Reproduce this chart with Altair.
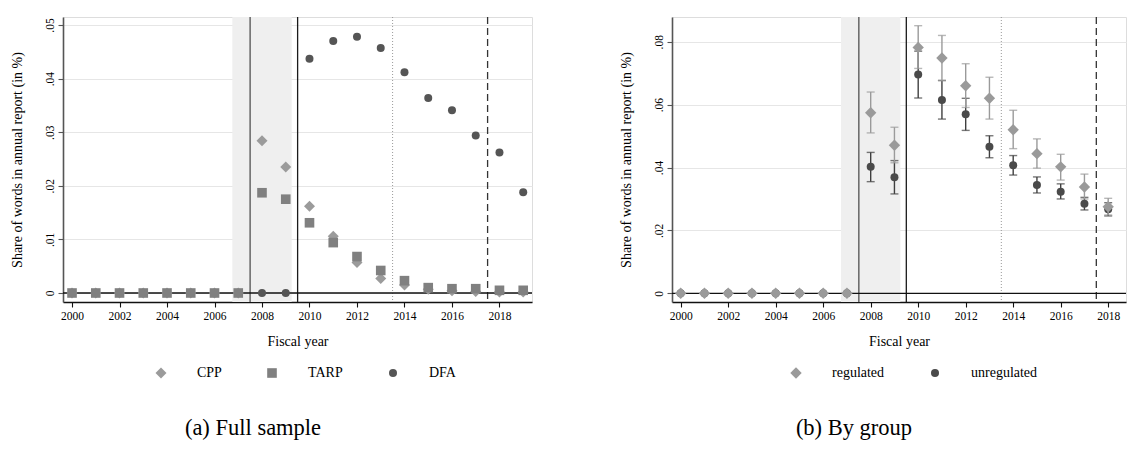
import altair as alt
import pandas as pd

# ---------------- data ----------------
years = list(range(2000, 2020))

cpp = [0, 0, 0, 0, 0, 0, 0, 0, 0.0284, 0.0235, 0.0162, 0.0106, 0.0057, 0.0027,
       0.0015, 0.0007, 0.0004, 0.0003, 0.0002, 0.0002]
tarp = [0, 0, 0, 0, 0, 0, 0, 0, 0.0187, 0.0175, 0.0131, 0.0094, 0.0068, 0.0042,
        0.0023, 0.0010, 0.0008, 0.0008, 0.0005, 0.0005]
dfa = [0, 0, 0, 0, 0, 0, 0, 0, 0, 0, 0.0437, 0.0470, 0.0478, 0.0457,
       0.0412, 0.0364, 0.0341, 0.0294, 0.0262, 0.0188]

regulated = [0, 0, 0, 0, 0, 0, 0, 0, 0.0574, 0.0471, 0.0782, 0.0748, 0.0660, 0.0620,
             0.0520, 0.0444, 0.0402, 0.0338, 0.0275, 0.0199]
reg_lo = [None] * 8 + [0.0510, 0.0415, 0.0715, 0.0676, 0.0591, 0.0554,
                       0.0460, 0.0398, 0.0360, 0.0300, 0.0249, 0.0170]
reg_hi = [None] * 8 + [0.0640, 0.0528, 0.0851, 0.0820, 0.0730, 0.0687,
                       0.0582, 0.0491, 0.0442, 0.0379, 0.0302, 0.0231]
unregulated = [0, 0, 0, 0, 0, 0, 0, 0, 0.0402, 0.0369, 0.0696, 0.0615, 0.0569, 0.0466,
               0.0407, 0.0344, 0.0323, 0.0285, 0.0267, 0.0193]
unreg_lo = [None] * 8 + [0.0355, 0.0316, 0.0621, 0.0554, 0.0518, 0.0431,
                         0.0376, 0.0319, 0.0300, 0.0265, 0.0246, 0.0164]
unreg_hi = [None] * 8 + [0.0448, 0.0422, 0.0770, 0.0677, 0.0620, 0.0501,
                         0.0438, 0.0370, 0.0348, 0.0305, 0.0288, 0.0214]

series_a = ["CPP", "TARP", "DFA"]
series_b = ["regulated", "unregulated"]
x_ticks = [2000, 2002, 2004, 2006, 2008, 2010, 2012, 2014, 2016, 2018]
y_ticks_a = [0, 0.01, 0.02, 0.03, 0.04, 0.05]
y_ticks_b = [0, 0.02, 0.04, 0.06, 0.08]
shade = [2006.75, 2009.25]
vline_gray = [2007.5]
vline_black = [2009.5]
vline_dot = [2013.5]
vline_dash = [2017.5]
captions = ["(a) Full sample", "(b) By group"]
x_title = "Fiscal year"
y_title = "Share of words in annual report (in %)"

# ---------------- styling ----------------
FONT = "Liberation Serif"
H = 285
W1 = 469
W2 = 454
XDOM_A = [1999.62, 2019.37]
YDOM_A = [-0.00168, 0.05149]
XDOM_B = [1999.634, 2018.75]
YDOM_B = [-0.00277, 0.08786]

C_LIGHT = "#9b9b9b"
C_MID = "#808080"
C_DARK = "#555555"

label_expr = "datum.value == 0 ? '0' : replace(format(datum.value, '.2f'), '0.', '.')"


def x_enc(field, dom):
    return alt.X(field, type="quantitative",
                 scale=alt.Scale(domain=dom, nice=False, zero=False),
                 axis=alt.Axis(values=x_ticks, format="d", title=x_title, grid=False,
                               domainColor="#111111", domainWidth=1.3,
                               tickColor="#111111", tickWidth=1.1, tickSize=5,
                               labelFont=FONT, labelFontSize=11.5, labelColor="#000000",
                               labelPadding=3,
                               titleFont=FONT, titleFontSize=14, titleFontWeight="normal",
                               titleColor="#000000", titlePadding=13))


def y_enc(field, dom, ticks, title_pad):
    return alt.Y(field, type="quantitative",
                 scale=alt.Scale(domain=dom, nice=False, zero=False),
                 axis=alt.Axis(values=ticks, labelExpr=label_expr, title=y_title,
                               grid=True, gridColor="#e6e6e6", gridWidth=1,
                               domainColor="#555555", domainWidth=1.6,
                               tickColor="#555555", tickWidth=1.1, tickSize=5,
                               labelAngle=-90, labelFont=FONT, labelFontSize=11.5,
                               labelColor="#000000", labelPadding=3,
                               minExtent=18, maxExtent=18,
                               titleFont=FONT, titleFontSize=14, titleFontWeight="normal",
                               titleColor="#000000", titlePadding=title_pad))


def legend(lx, ly):
    return alt.Legend(title=None, orient="none", legendX=lx, legendY=ly,
                      direction="horizontal", columns=3,
                      labelFont=FONT, labelFontSize=14, labelColor="#000000",
                      labelOffset=29, columnPadding=43, symbolSize=50,
                      symbolStrokeWidth=0, symbolOpacity=1)


def backdrop(xdom, ydom, ticks, title_pad):
    base_shade = pd.DataFrame({"x0": [shade[0]], "x1": [shade[1]]})
    rect = alt.Chart(base_shade).mark_rect(color="#efefef").encode(
        x=x_enc("x0", xdom), x2="x1",
        y=alt.value(0), y2=alt.value(H))
    def vl(vals, **kw):
        return alt.Chart(pd.DataFrame({"v": vals})).mark_rule(**kw).encode(
            x=alt.X("v:Q"))
    zero = alt.Chart(pd.DataFrame({"z": [0]})).mark_rule(
        color="#111111", strokeWidth=1.3).encode(
        y=y_enc("z", ydom, ticks, title_pad))
    return [rect,
            vl(vline_gray, color="#6e6e6e", strokeWidth=1.6),
            vl(vline_black, color="#1a1a1a", strokeWidth=1.3),
            vl(vline_dot, color="#9a9a9a", strokeWidth=1, strokeDash=[1, 2]),
            vl(vline_dash, color="#333333", strokeWidth=1.3, strokeDash=[7, 4]),
            zero]


# ---------------- panel (a) ----------------
rows_a = []
for name, vals in [("DFA", dfa), ("CPP", cpp), ("TARP", tarp)]:
    for yr, v in zip(years, vals):
        rows_a.append({"year": yr, "value": v, "series": name})
df_a = pd.DataFrame(rows_a)

leg_a = legend(91, 349)
pts_a = alt.Chart(df_a).mark_point(filled=True, opacity=1).encode(
    x=x_enc("year", XDOM_A),
    y=y_enc("value", YDOM_A, y_ticks_a, 21),
    color=alt.Color("series:N", scale=alt.Scale(domain=series_a,
                                                range=[C_LIGHT, C_MID, C_DARK]),
                    legend=leg_a),
    shape=alt.Shape("series:N", scale=alt.Scale(domain=series_a,
                                                range=["diamond", "square", "circle"]),
                    legend=leg_a),
    size=alt.Size("series:N", scale=alt.Scale(domain=series_a, range=[121, 64, 56]),
                  legend=None),
)

cap_a = alt.Chart(pd.DataFrame({"t": [captions[0]]})).mark_text(
    font=FONT, fontSize=22.5, color="#000000", align="center", baseline="middle").encode(
    text="t:N", x=alt.value(190), y=alt.value(411))

panel_a = alt.layer(*backdrop(XDOM_A, YDOM_A, y_ticks_a, 21), pts_a, cap_a).properties(
    width=W1, height=H)

# ---------------- panel (b) ----------------
rows_b = []
for name, vals, lo, hi in [("unregulated", unregulated, unreg_lo, unreg_hi),
                           ("regulated", regulated, reg_lo, reg_hi)]:
    for yr, v, l, h in zip(years, vals, lo, hi):
        rows_b.append({"year": yr, "value": v, "lo": l, "hi": h, "series": name})
df_b = pd.DataFrame(rows_b)
df_b_err = df_b.dropna(subset=["lo", "hi"])

color_b = alt.Scale(domain=series_b, range=["#9a9a9a", "#4a4a4a"])
leg_b = legend(117, 349)

err_parts = []
for name in ["unregulated", "regulated"]:
    d = df_b_err[df_b_err["series"] == name]
    col = "#9a9a9a" if name == "regulated" else "#3f3f3f"
    err_parts.append(alt.Chart(d).mark_rule(color=col, strokeWidth=1.4, clip=True).encode(
        x=alt.X("year:Q"), y=alt.Y("lo:Q"), y2="hi"))
    for f in ["lo", "hi"]:
        err_parts.append(alt.Chart(d).mark_tick(color=col, orient="horizontal", size=8,
                                                thickness=1.4, clip=True).encode(
            x=alt.X("year:Q"), y=alt.Y(f + ":Q")))

pts_b_layers = []
for name in ["unregulated", "regulated"]:
    d = df_b[df_b["series"] == name]
    pts_b_layers.append(alt.Chart(d).mark_point(filled=True, opacity=1, clip=True).encode(
        x=alt.X("year:Q"), y=alt.Y("value:Q"),
        color=alt.Color("series:N", scale=color_b, legend=leg_b),
        shape=alt.Shape("series:N", scale=alt.Scale(domain=series_b,
                                                    range=["diamond", "circle"]),
                        legend=leg_b),
        size=alt.Size("series:N", scale=alt.Scale(domain=series_b, range=[130, 64]),
                      legend=None),
    ))

# order: unregulated bars + points first, regulated on top
layers_b = backdrop(XDOM_B, YDOM_B, y_ticks_b, 21)
layers_b += [err_parts[0], err_parts[1], err_parts[2], pts_b_layers[0],
             err_parts[3], err_parts[4], err_parts[5], pts_b_layers[1]]

cap_b = alt.Chart(pd.DataFrame({"t": [captions[1]]})).mark_text(
    font=FONT, fontSize=22.5, color="#000000", align="center", baseline="middle").encode(
    text="t:N", x=alt.value(182), y=alt.value(411))

panel_b = alt.layer(*layers_b, cap_b).properties(width=W2, height=H)

chart = alt.hconcat(panel_a, panel_b, spacing=84).resolve_scale(
    color="independent", shape="independent", size="independent",
    x="independent", y="independent"
).resolve_legend(color="independent", shape="independent").properties(
    padding={"left": 1, "top": 7, "right": 0, "bottom": 0}
).configure_view(stroke=None).configure(background="white", font=FONT)

chart.save("out.html", embed_options={"renderer": "svg", "actions": False})
